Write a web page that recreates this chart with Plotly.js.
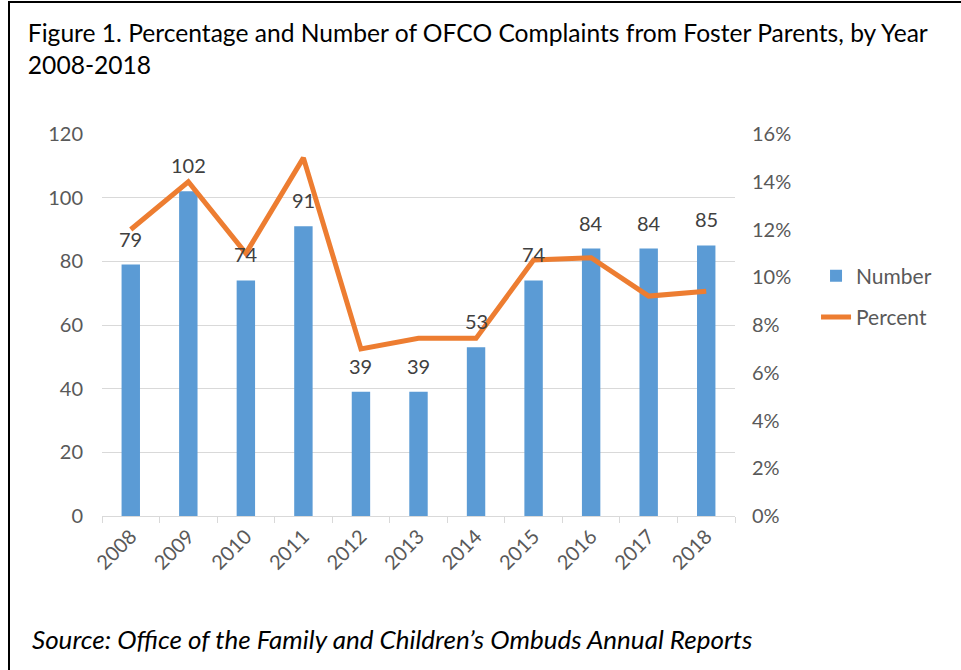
<!DOCTYPE html>
<html>
<head>
<meta charset="utf-8">
<script src="https://cdn.plot.ly/plotly-3.0.1.min.js"></script>
<style>
  html, body { margin: 0; padding: 0; background: #fff; }
  #wrap { position: relative; width: 961px; height: 670px; overflow: hidden; }
  #chart { width: 961px; height: 670px; }
  .bt { position: absolute; left: 8px; top: 1px; width: 953px; height: 2px; background: #000; }
  .bl { position: absolute; left: 8px; top: 1px; width: 2px; height: 669px; background: #000; }
</style>
</head>
<body>
<div id="wrap">
  <div id="chart"></div>
  <div class="bt"></div>
  <div class="bl"></div>
</div>
<script>
const years = ['2008','2009','2010','2011','2012','2013','2014','2015','2016','2017','2018'];
const numbers = [79, 102, 74, 91, 39, 39, 53, 74, 84, 84, 85];
const percents = [0.120, 0.140, 0.110, 0.150, 0.070, 0.0744, 0.0744, 0.1072, 0.1082, 0.0921, 0.0941];
const titleText = 'Figure 1. Percentage and Number of OFCO Complaints from Foster Parents, by Year<br>2008-2018';
const sourceText = 'Source: Office of the Family and Children\u2019s Ombuds Annual Reports';

const FONT = 'Lato, "Open Sans", sans-serif';
const GRAY = '#595959';

const traces = [
  {
    type: 'bar', name: 'Number', x: years, y: numbers, legendgroup: 'a',
    marker: { color: '#5B9BD5' }, yaxis: 'y'
  },
  {
    type: 'scatter', mode: 'lines', name: 'Percent', x: years, y: percents, legendgroup: 'b',
    line: { color: '#ED7D31', width: 5 }, yaxis: 'y2'
  }
];

// data labels above bars, positioned by category index on the axis
const labelAnn = years.map((yr, i) => ({
  x: i, y: numbers[i], xref: 'x', yref: 'y', text: String(numbers[i]),
  showarrow: false, yanchor: 'bottom', yshift: 12,
  font: { family: FONT, size: 20, color: '#404040' }
}));

const layout = {
  width: 961, height: 670,
  margin: { l: 102, r: 226, t: 134, b: 154 },
  paper_bgcolor: '#fff', plot_bgcolor: '#fff',
  bargap: 0.68,
  font: { family: FONT, color: GRAY },
  title: {
    text: titleText, xref: 'container', yref: 'container',
    x: 0.029, xanchor: 'left', y: 0.937, yanchor: 'top',
    font: { family: FONT, size: 24.6, color: '#000' }
  },
  xaxis: {
    type: 'category', range: [-0.5, years.length - 0.5], tickangle: -45, tickson: 'boundaries',
    ticks: 'outside', ticklen: 6, tickcolor: '#D9D9D9',
    showline: true, linecolor: '#D9D9D9', linewidth: 1,
    showgrid: false, tickfont: { family: FONT, size: 20, color: GRAY }
  },
  yaxis: {
    range: [0, 120], dtick: 20, showgrid: true, gridcolor: '#D9D9D9',
    zeroline: false, ticks: '', ticklabelstandoff: 18,
    tickfont: { family: FONT, size: 20, color: GRAY }
  },
  yaxis2: {
    overlaying: 'y', side: 'right', range: [0, 0.16], dtick: 0.02,
    tickformat: '.0%', showgrid: false, zeroline: false, ticks: '',
    ticklabelstandoff: 16,
    tickfont: { family: FONT, size: 20, color: GRAY }
  },
  legend: {
    x: 1.128, y: 0.682, xanchor: 'left', yanchor: 'top',
    font: { family: FONT, size: 21, color: GRAY },
    bgcolor: 'rgba(0,0,0,0)', tracegroupgap: 11
  },
  annotations: labelAnn.concat([{
    text: '<i>' + sourceText + '</i>', xref: 'paper', yref: 'paper',
    x: -0.113, xanchor: 'left', y: -0.322, yanchor: 'middle', showarrow: false,
    font: { family: FONT, size: 26, color: '#000' }
  }])
};

Plotly.newPlot('chart', traces, layout, { displayModeBar: false, staticPlot: true });
</script>
</body>
</html>
